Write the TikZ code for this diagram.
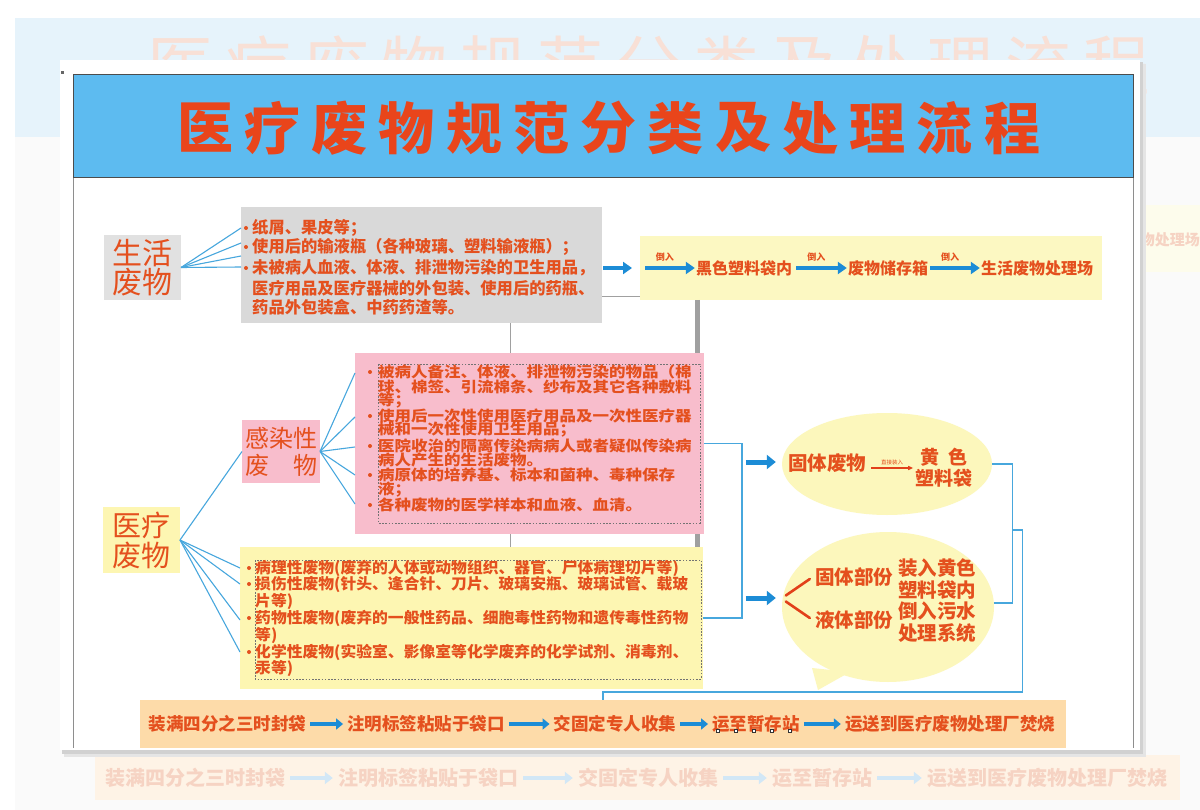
\documentclass[tikz,border=0pt]{standalone}
\usepackage{graphicx}
\usepackage{fontspec}
\setmainfont{Noto Sans CJK SC}
\usetikzlibrary{arrows.meta,calc,shapes.geometric}
\definecolor{txtc}{HTML}{E4501E}
\definecolor{ttlc}{HTML}{E9451B}
\definecolor{skyc}{HTML}{5DBBF0}
\definecolor{greyc}{HTML}{D9D9D9}
\definecolor{ylwc}{HTML}{FCF8C2}
\definecolor{ylw2}{HTML}{FDF6B2}
\definecolor{pinkc}{HTML}{F8BDCC}
\definecolor{ellc}{HTML}{FCF7BC}
\definecolor{peachc}{HTML}{FDDBA9}
\definecolor{linec}{HTML}{47A7DD}
\definecolor{arrc}{HTML}{1C8CD6}
\definecolor{redc}{HTML}{E2401A}
\definecolor{bandc}{HTML}{E6F3FB}
\definecolor{fadet}{HTML}{F6D3C3}
\definecolor{fadett}{HTML}{F8E0D6}
\definecolor{fadeb}{HTML}{FEF3E6}
\definecolor{fadea}{HTML}{D2E7F6}
\definecolor{fadey}{HTML}{FDFCEC}
\definecolor{framec}{HTML}{8E8E8E}
\definecolor{gline}{HTML}{A0A0A0}
\begin{document}
\begin{tikzpicture}[x=1pt,y=-1pt,
  box/.style={rectangle,inner sep=0pt,outer sep=0pt},
  bigtxt/.style={text=txtc,align=center},
  growtxt/.style={anchor=west,inner sep=0pt,text=txtc,font=\bfseries\fontsize{16.3}{16.3}\selectfont},
  prowtxt/.style={anchor=west,inner sep=0pt,text=txtc,font=\bfseries\fontsize{14.6}{14.6}\selectfont},
  yrowtxt/.style={anchor=west,inner sep=0pt,text=txtc,font=\bfseries\fontsize{15.2}{15.2}\selectfont},
  flowtxt/.style={inner sep=0pt,text=txtc,font=\bfseries\fontsize{16}{16}\selectfont},
  bartxt/.style={inner sep=0pt,text=txtc,font=\bfseries\fontsize{17.5}{17.5}\selectfont},
  bubtxt/.style={inner sep=0pt,text=txtc,align=center,font=\bfseries\fontsize{19.5}{22}\selectfont},
  lbl/.style={inner sep=0pt,text=txtc,font=\bfseries\fontsize{9}{9}\selectfont},
  fan/.style={draw=linec,line width=1.1pt},
  bl/.style={draw=linec,line width=1.3pt},
  barrow/.style={draw=arrc,line width=5pt,-{Triangle[length=9pt,width=14pt]}},
  farrow/.style={draw=arrc,line width=4.5pt,-{Triangle[length=9pt,width=12pt]}},
  sarrow/.style={draw=arrc,line width=3.5pt,-{Triangle[length=7pt,width=11pt]},shorten <=4pt,shorten >=4pt},
  fadearrow/.style={draw=fadea,line width=4pt,-{Triangle[length=8pt,width=12pt]},shorten <=5pt,shorten >=5pt},
  dsh/.style={draw=black!55,line width=0.8pt,dash pattern=on 1.6pt off 1.6pt},
  ttl/.style={inner sep=0pt,text=ttlc,font=\bfseries\fontsize{56}{56}\selectfont},
  fttl/.style={inner sep=0pt,text=fadett,font=\fontsize{66}{66}\selectfont},
  ftxt/.style={inner sep=0pt,text=fadet,font=\bfseries\fontsize{20}{20}\selectfont}
]
\useasboundingbox (0,0) rectangle (1200,810);
% ---------- faded surroundings ----------
\fill[white] (0,0) rectangle (1200,810);
\fill[black!2] (15,137) rectangle (1200,810);
\fill[bandc] (15,18) rectangle (1200,137);
\foreach \c [count=\i from 0] in {医,疗,废,物,规,范,分,类,及,处,理,流,程}
  \node[fttl] (ft\i) at (180+78*\i,66) {\c};
\fill[fadey] (1140,205) rectangle (1200,272);
\node[inner sep=0pt,text=fadet,anchor=east,font=\bfseries\fontsize{15}{15}\selectfont] (frt) at (1200,240) {物处理场};
\node[box,fill=fadeb,minimum width=1085pt,minimum height=45pt] (fbar) at (637.5,777.5) {};
\node[ftxt] (f1) at (195,778) {装满四分之三时封袋};
\node[ftxt] (f2) at (428,778) {注明标签粘贴于袋口};
\node[ftxt] (f3) at (648,778) {交固定专人收集};
\node[ftxt] (f4) at (822,778) {运至暂存站};
\node[ftxt] (f5) at (1047,778) {运送到医疗废物处理厂焚烧};
\draw[fadearrow] (f1.east) -- (f2.west);
\draw[fadearrow] (f2.east) -- (f3.west);
\draw[fadearrow] (f3.east) -- (f4.west);
\draw[fadearrow] (f4.east) -- (f5.west);
% ---------- main panel ----------
\fill[black!10] (64,64) rectangle (1146,757);
\fill[black!18] (62,62) rectangle (1143,754);
\fill[white] (60,60) rectangle (1140,750);
\draw[framec,line width=0.9pt] (73,178) -- (73,748);
\draw[framec,line width=0.9pt] (1133,178) -- (1133,748);
\node[box,fill=skyc,draw=black!70,line width=1pt,minimum width=1060pt,minimum height=103pt] (tbar) at (603,126.5) {};
\fill[black!60] (60.5,71) rectangle (63.5,74);
\foreach \c [count=\i from 0] in {医,疗,废,物,规,范,分,类,及,处,理,流,程}
  \node[ttl] (t\i) at (205+67.25*\i,128) {\c};
% ---------- boxes ----------
\node[box,fill=greyc!80,minimum width=77pt,minimum height=65pt,bigtxt,font=\fontsize{30}{27}\selectfont] (shl) at (142.5,267.5) {生活\\废物};
\node[box,fill=greyc,minimum width=361pt,minimum height=116pt] (gbox) at (421.5,265) {};
\node[box,fill=ylwc,minimum width=462pt,minimum height=64pt] (ybox1) at (871,268) {};
\node[box,fill=ylw2,minimum width=463pt,minimum height=142pt] (ybox2) at (471.5,618) {};
% grey connectors (behind pink box)
\draw[gline,line width=1pt] ([xshift=88.5pt]gbox.south) -- ([xshift=38.5pt]ybox2.north);
\draw[gline,line width=5pt] ([xshift=-174pt]ybox1.south) -- ([xshift=225.5pt]ybox2.north);
\draw[gline,line width=1pt] ([yshift=-32pt]gbox.east) -- ([yshift=-32pt]gbox.east -| ybox1.west);
\node[box,fill=pinkc,minimum width=349pt,minimum height=181pt] (pbox) at (529.5,443.5) {};
\node[box,fill=pinkc,minimum width=78pt,minimum height=63pt,bigtxt,font=\fontsize{24}{27}\selectfont] (inf) at (281,451.5) {感染性\\废\hspace{1em}物};
\node[box,fill=ylw2,minimum width=77pt,minimum height=66pt,bigtxt,font=\fontsize{29}{30}\selectfont] (med) at (141.5,540) {医疗\\废物};
\node[box,fill=peachc,minimum width=926pt,minimum height=48pt] (bbar) at (603,724) {};
\draw[dsh] (378,364) rectangle (700,523);
\draw[dsh] (255,560) rectangle (701,679);
% ---------- grey box text ----------
\foreach \i/\y/\t in {1/228/{纸屑、果皮等；},2/247/{使用后的输液瓶（各种玻璃、塑料输液瓶）；},3/268/{未被病人血液、体液、排泄物污染的卫生用品，},4/288/{医疗用品及医疗器械的外包装、使用后的药瓶、},5/307/{药品外包装盒、中药药渣等。}}
  \node[growtxt] (g\i) at (252,\y) {\t};
\foreach \y in {228,247,268} \fill[txtc] (246,\y) circle (2pt);
% ---------- pink box text ----------
\foreach \i/\y/\t in {1/372/{被病人备注、体液、排泄物污染的物品（棉},2/387/{球、棉签、引流棉条、纱布及其它各种敷料},3/401/{等；},4/416/{使用后一次性使用医疗用品及一次性医疗器},5/430/{械和一次性使用卫生用品；},6/446/{医院收治的隔离传染病病人或者疑似传染病},7/460/{病人产生的生活废物。},8/475/{病原体的培养基、标本和菌种、毒种保存},9/490/{液；},10/505/{各种废物的医学样本和血液、血清。}}
  \node[prowtxt] (p\i) at (378,\y) {\scalebox{1.13}[1]{\t}};
\foreach \y in {372,416,446,475,505} \fill[txtc] (370,\y) circle (2pt);
% ---------- lower yellow text ----------
\foreach \i/\y/\t in {1/568/{病理性废物(废弃的人体或动物组织、器官、尸体病理切片等)},2/584/{损伤性废物(针头、逢合针、刀片、玻璃安瓶、玻璃试管、载玻},3/601/{片等)},4/618/{药物性废物(废弃的一般性药品、细胞毒性药物和遗传毒性药物},5/635/{等)},6/652/{化学性废物(实验室、影像室等化学废弃的化学试剂、消毒剂、},7/668/{汞等)}}
  \node[yrowtxt] (y\i) at (255,\y) {\scalebox{1.04}[1]{\t}};
\foreach \y in {568,584,618,652} \fill[txtc] (249,\y) circle (2pt);
% ---------- fans ----------
\foreach \s in {37,22,9,-2} \draw[fan] (shl.east) -- ([yshift=\s pt]gbox.west);
\foreach \s in {70.5,26.5,-3.5,-31.5,-60.5} \draw[fan] (inf.east) -- ([yshift=\s pt]pbox.west);
\draw[fan] (med.east) -- (inf.west);
\foreach \s in {50,34,-2,-34} \draw[fan] (med.east) -- ([yshift=\s pt]ybox2.west);
% ---------- top flow ----------
\node[flowtxt] (tf1) at (744,268) {黑色塑料袋内};
\node[flowtxt] (tf2) at (888,268) {废物储存箱};
\node[flowtxt] (tf3) at (1037,268) {生活废物处理场};
\draw[farrow] ([xshift=1pt]gbox.east |- ybox1.west) -- ([xshift=-8pt]ybox1.west);
\draw[farrow] ([xshift=5pt]ybox1.west) -- node[lbl,pos=0.4,above=4pt] (l1) {倒入} ([xshift=-1pt]tf1.west);
\draw[farrow] ([xshift=4pt]tf1.east) -- node[lbl,pos=0.4,above=4pt] (l2) {倒入} ([xshift=-1pt]tf2.west);
\draw[farrow] ([xshift=2pt]tf2.east) -- node[lbl,pos=0.4,above=4pt] (l3) {倒入} ([xshift=-1pt]tf3.west);
% ---------- right side ----------
\node[ellipse,inner sep=0pt,fill=ellc,minimum width=210pt,minimum height=102pt] (ell1) at (887,464) {};
\fill[ellc] (812,668) -- (818,690) -- (850,672) -- cycle;
\node[ellipse,inner sep=0pt,fill=ellc,minimum width=212pt,minimum height=150pt] (cld) at (888,607) {};
\draw[bl] (pbox.east) -- ++(38,0) |- (ybox2.east);
\draw[barrow] ($(ell1.west)+(-36,-2)$) -- ($(ell1.west)+(-6,-2)$);
\draw[barrow] ($(cld.west)+(-36,-9)$) -- ($(cld.west)+(-6,-9)$);
\draw[bl] (ell1.east) -- ++(20,0) |- ($(cld.east)+(0,-4)$);
\coordinate (jn) at ($(ell1.east)+(20,66)$);
\draw[bl] (jn) -- ++(10,0) |- ($(bbar.north)+(0,-8)$) -- (bbar.north);
\node[bubtxt] (e1) at (827,463) {固体废物};
\node[bubtxt,font=\bfseries\fontsize{19}{21}\selectfont] (e2) at (944,468) {黄\hspace{0.5em}色\\塑料袋};
\draw[redc,line width=1.4pt,-{Triangle[length=5pt,width=4pt]}] ($(e1.east)+(5,5)$) -- node[inner sep=0pt,above=2pt,text=txtc,font=\fontsize{5.5}{5.5}\selectfont] (l4) {直接装入} ($(e1.east)+(47,5)$);
\node[bubtxt] (c1) at (854,577) {固体部份};
\node[bubtxt] (c2) at (854,620) {液体部份};
\node[bubtxt] (c3) at (937,579) {装入黄色\\塑料袋内};
\node[bubtxt] (c4) at (937,622) {倒入污水\\处理系统};
\coordinate (cv) at ($(c1.west)!0.5!(c2.west)+(-29,0)$);
\draw[redc,line width=2.6pt,line cap=round] ($(c1.west)+(-5,2)$) -- ($(cv)+(0,-3)$);
\draw[redc,line width=2.6pt,line cap=round] ($(cv)+(0,3)$) -- ($(c2.west)+(-5,-2)$);
% ---------- bottom bar ----------
\node[bartxt] (b1) at (227.5,724) {装满四分之三时封袋};
\node[bartxt] (b2) at (426,724) {注明标签粘贴于袋口};
\node[bartxt] (b3) at (615,724) {交固定专人收集};
\node[bartxt] (b4) at (756,724) {运至暂存站};
\node[bartxt] (b5) at (950,724) {运送到医疗废物处理厂焚烧};
\draw[sarrow] (b1.east) -- (b2.west);
\draw[sarrow] (b2.east) -- (b3.west);
\draw[sarrow] (b3.east) -- (b4.west);
\draw[sarrow] (b4.east) -- (b5.west);
\foreach \x in {718,736,754,772,790} \draw[black!80,fill=white,line width=0.5pt] (\x-1.5,729.5) rectangle (\x+1.5,732.5);
\end{tikzpicture}
\end{document}
